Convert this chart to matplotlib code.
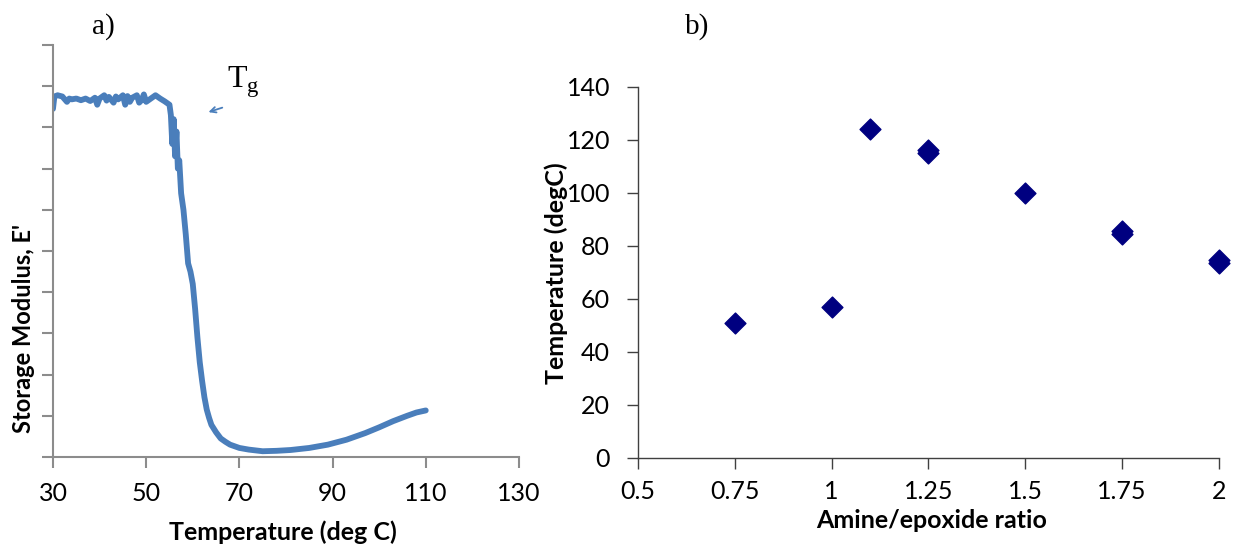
import numpy as np
from matplotlib import pyplot as plt
from matplotlib.path import Path

# a) storage modulus vs temperature (arbitrary units, axis 0-10)
temp_a = [30, 30.3, 31, 32, 33, 33.5, 34, 35, 36, 37, 38, 39, 39.5, 40, 41, 41.5, 42, 43,
          43.5, 44, 45, 45.5, 46, 46.5, 47, 48, 48.5, 49, 49.5, 50, 51, 52, 53, 54, 55,
          55.3, 55.6, 55.9, 56.2, 56.5, 56.8, 57.1, 57.5, 58, 58.5, 59, 59.5, 60, 60.5,
          61, 61.5, 62, 62.5, 63, 63.5, 64, 65, 66, 67, 68, 70, 72, 75, 78, 81, 85, 89,
          93, 97, 100, 103, 106, 108, 110]
modulus_a = [8.45, 8.75, 8.78, 8.75, 8.62, 8.7, 8.68, 8.7, 8.66, 8.7, 8.64, 8.72, 8.55,
             8.7, 8.78, 8.65, 8.74, 8.6, 8.75, 8.68, 8.78, 8.55, 8.76, 8.62, 8.72, 8.78,
             8.6, 8.66, 8.8, 8.62, 8.7, 8.78, 8.7, 8.63, 8.55,
             8.3, 7.6, 8.2, 7.3, 7.9, 7.0, 7.2, 6.4, 6.0, 5.4, 4.7, 4.5, 4.2, 3.6,
             2.9, 2.3, 1.85, 1.45, 1.15, 0.95, 0.78, 0.6, 0.45, 0.37, 0.3, 0.22, 0.18,
             0.14, 0.15, 0.17, 0.22, 0.3, 0.42, 0.58, 0.72, 0.87, 1.0, 1.08, 1.13]

# b) Tg vs amine/epoxide ratio
ratio_b = [0.75, 1.0, 1.1, 1.25, 1.25, 1.5, 1.75, 1.75, 2.0, 2.0]
tg_b = [51, 57, 124, 115.2, 116.4, 100, 84.5, 85.7, 73.4, 74.6]
xticks_b = [0.5, 0.75, 1, 1.25, 1.5, 1.75, 2]
xticklabels_b = ['0.5', '0.75', '1', '1.25', '1.5', '1.75', '2']

line_blue = '#4a7ebb'
navy = '#000080'
tick_font = 'Lato'

fig = plt.figure(figsize=(12.35, 5.46), dpi=100)

# ---- panel a ----
ax1 = fig.add_axes([0.0429, 0.163, 0.3773, 0.7546])
ax1.plot(temp_a, modulus_a, color=line_blue, lw=4.2, solid_joinstyle='round',
         solid_capstyle='round')
ax1.set_xlim(30, 130)
ax1.set_ylim(0, 10)
ax1.set_xticks([30, 50, 70, 90, 110, 130])
ax1.set_yticks(range(0, 11))
ax1.set_yticklabels([])
for s in ['top', 'right']:
    ax1.spines[s].set_visible(False)
for s in ['left', 'bottom']:
    ax1.spines[s].set_color('#8c8c8c')
    ax1.spines[s].set_linewidth(1.5)
ax1.tick_params(axis='both', color='#8c8c8c', width=1.5, length=8, direction='out')
ax1.tick_params(axis='x', labelsize=18, pad=10)
for lab in ax1.get_xticklabels():
    lab.set_fontfamily(tick_font)
ax1.annotate('', xy=(62.8, 8.35), xytext=(66.9, 8.5),
             arrowprops=dict(arrowstyle='->', color=line_blue, lw=1.3))
ax1.text(67.3, 8.96, r'T$_{\mathregular{g}}$', fontsize=23, family='Liberation Serif')
fig.text(0.0745, 0.976, 'a)', fontsize=21, family='Liberation Serif', va='top')
fig.text(0.229, 0.026, 'Temperature (deg C)', fontsize=18, fontweight='bold',
         family=tick_font, ha='center', va='center')
fig.text(0.019, 0.398, "Storage Modulus, E'", fontsize=17, fontweight='bold',
         family=tick_font, rotation=90, ha='center', va='center')

# ---- panel b ----
diamond = Path([(0, 1), (1, 0), (0, -1), (-1, 0), (0, 1)],
               [Path.MOVETO, Path.LINETO, Path.LINETO, Path.LINETO, Path.CLOSEPOLY])
ax2 = fig.add_axes([0.5166, 0.1612, 0.4704, 0.6795])
ax2.plot(ratio_b, tg_b, ls='none', marker=diamond, ms=15, color=navy, clip_on=False)
ax2.set_xlim(0.5, 2)
ax2.set_ylim(0, 140)
ax2.set_xticks(xticks_b)
ax2.set_xticklabels(xticklabels_b)
ax2.set_yticks(range(0, 141, 20))
for s in ['top', 'right']:
    ax2.spines[s].set_visible(False)
for s in ['left', 'bottom']:
    ax2.spines[s].set_color('#404040')
    ax2.spines[s].set_linewidth(1.0)
ax2.tick_params(axis='both', color='#404040', width=1.0, length=8, direction='out',
                labelsize=18)
ax2.tick_params(axis='x', pad=8)
ax2.tick_params(axis='y', pad=12)
for lab in ax2.get_xticklabels() + ax2.get_yticklabels():
    lab.set_fontfamily(tick_font)
fig.text(0.5547, 0.976, 'b)', fontsize=21, family='Liberation Serif', va='top')
fig.text(0.754, 0.046, 'Amine/epoxide ratio', fontsize=18, fontweight='bold',
         family=tick_font, ha='center', va='center')
fig.text(0.4505, 0.5, 'Temperature (degC)', fontsize=18, fontweight='bold',
         family=tick_font, rotation=90, ha='center', va='center')

fig.savefig('out.png', dpi=100)
